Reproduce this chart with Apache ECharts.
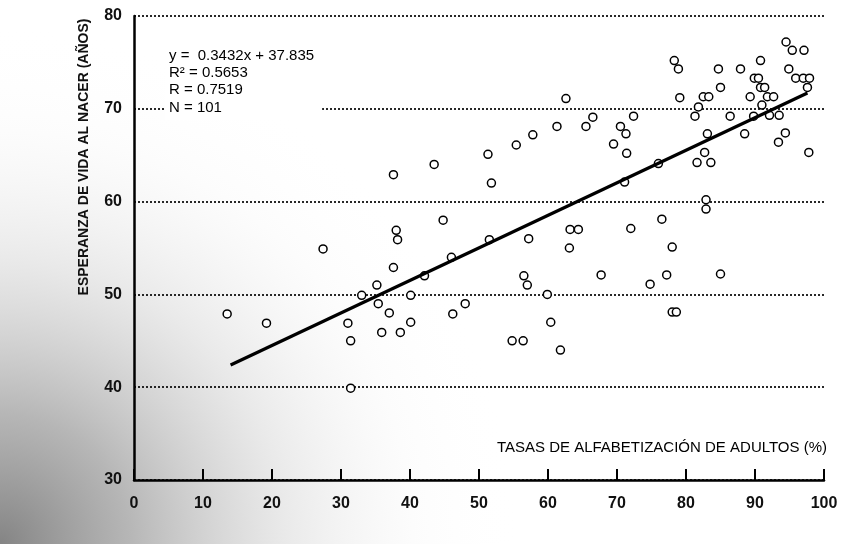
<!DOCTYPE html>
<html>
<head>
<meta charset="utf-8">
<script src="https://cdn.jsdelivr.net/npm/echarts@6/dist/echarts.min.js"></script>
<style>
html,body{margin:0;padding:0;background:#fff;}
#chart{width:846px;height:544px;}
</style>
</head>
<body>
<div id="chart"></div>
<script>
// Adult literacy rate (%) per country
const literacy = [
  13.5, 19.2, 27.4, 31.0, 31.4, 31.4, 33.0, 35.2, 35.4, 35.9,
  37.0, 37.6, 37.6, 38.0, 38.2, 38.6, 40.1, 40.1, 42.1, 43.5,
  44.8, 46.0, 46.2, 48.0, 51.3, 51.8, 51.5, 54.8, 55.4, 56.4,
  56.5, 57.0, 57.2, 57.8, 59.9, 60.4, 61.3, 61.8, 62.6, 63.1,
  63.2, 64.4, 65.5, 66.5, 67.7, 69.5, 70.5, 71.1, 71.3, 71.4,
  72.0, 72.4, 74.8, 76.0, 76.5, 77.2, 78.0, 78.0, 78.6, 78.3,
  78.9, 79.1, 81.3, 81.8, 82.5, 83.3, 83.1, 82.7, 81.6, 83.6,
  82.9, 82.9, 84.7, 85.0, 85.0, 86.4, 87.9, 88.5, 89.3, 89.8,
  89.9, 90.5, 90.8, 90.8, 91.4, 91.0, 91.8, 92.7, 92.1, 93.5,
  94.4, 93.4, 94.5, 95.4, 97.1, 94.9, 95.9, 97.0, 97.9, 97.6,
  97.8
];
// Life expectancy at birth (years) per country
const lifeExp = [
  47.9, 46.9, 54.9, 46.9, 45.0, 39.9, 49.9, 51.0, 49.0, 45.9,
  48.0, 52.9, 62.9, 56.9, 55.9, 45.9, 49.9, 47.0, 52.0, 64.0,
  58.0, 54.0, 47.9, 49.0, 65.1, 62.0, 55.9, 45.0, 66.1, 45.0,
  52.0, 51.0, 56.0, 67.2, 50.0, 47.0, 68.1, 44.0, 71.1, 55.0,
  57.0, 57.0, 68.1, 69.1, 52.1, 66.2, 68.1, 62.1, 67.3, 65.2,
  57.1, 69.2, 51.1, 64.1, 58.1, 52.1, 55.1, 48.1, 48.1, 75.2,
  74.3, 71.2, 69.2, 70.2, 71.3, 71.3, 67.3, 65.3, 64.2, 64.2,
  60.2, 59.2, 74.3, 72.3, 52.2, 69.2, 74.3, 67.3, 71.3, 69.2,
  73.3, 73.3, 75.2, 72.3, 72.3, 70.4, 71.3, 71.3, 69.3, 69.3,
  67.4, 66.4, 77.2, 76.3, 76.3, 74.3, 73.3, 73.3, 73.3, 72.3,
  65.3
];
// Fitted line end points
const fitX = [14.0, 97.6];
const fitY = [42.4, 71.7];
// Statistics box
const statsLines = ['y =  0.3432x + 37.835', 'R\u00B2 = 0.5653', 'R = 0.7519', 'N = 101'];
const xTicks = [0, 10, 20, 30, 40, 50, 60, 70, 80, 90, 100];
const yTicks = [30, 40, 50, 60, 70, 80];
const xTitle = 'TASAS DE ALFABETIZACIÓN DE ADULTOS (%)';
const yTitle = 'ESPERANZA DE VIDA AL NACER (AÑOS)';

const points = literacy.map((x, i) => [x, lifeExp[i]]);
const fitData = fitX.map((x, i) => [x, fitY[i]]);

const chart = echarts.init(document.getElementById('chart'), null, {renderer: 'canvas'});
const FONT = "'Liberation Sans', Arial, sans-serif";

chart.setOption({
  animation: false,
  backgroundColor: '#fff',
  grid: {left: 134, right: 22, top: 16, bottom: 64, containLabel: false},
  xAxis: {
    type: 'value',
    min: xTicks[0], max: xTicks[xTicks.length - 1], interval: 10,
    axisLine: {show: true, lineStyle: {color: '#000', width: 2.5}},
    axisTick: {show: true, inside: true, length: 11, lineStyle: {color: '#000', width: 2}},
    axisLabel: {margin: 16, color: '#111', fontSize: 16, fontWeight: 'bold', fontFamily: FONT},
    splitLine: {show: false}
  },
  yAxis: {
    type: 'value',
    min: yTicks[0], max: yTicks[yTicks.length - 1], interval: 10,
    axisLine: {show: true, lineStyle: {color: '#000', width: 2.5}},
    axisTick: {show: false},
    axisLabel: {margin: 12, color: '#111', fontSize: 16, fontWeight: 'bold', fontFamily: FONT},
    splitLine: {show: true, lineStyle: {color: '#111', width: 1.8, type: [2, 2]}}
  },
  graphic: [
    {
      type: 'rect', z: -100, silent: true,
      shape: {x: 0, y: 0, width: 846, height: 544},
      style: {
        fill: {
          type: 'radial', x: 0, y: 544, r: 520, global: true,
          colorStops: [
            {offset: 0, color: 'rgba(80,80,80,0.7)'},
            {offset: 0.25, color: 'rgba(110,110,110,0.5)'},
            {offset: 0.55, color: 'rgba(170,170,170,0.25)'},
            {offset: 0.8, color: 'rgba(220,220,220,0.08)'},
            {offset: 1, color: 'rgba(255,255,255,0)'}
          ]
        }
      }
    },
    {
      type: 'text', z: 50, left: 165, top: 43,
      style: {
        text: statsLines.join('\n'),
        font: "15px " + FONT,
        fill: '#000',
        lineHeight: 17.3,
        backgroundColor: '#fff',
        padding: [4, 8, 4, 4]
      }
    },
    {
      type: 'text', z: 50, x: 84, y: 157, rotation: Math.PI / 2,
      style: {
        text: yTitle,
        font: "bold 14px " + FONT,
        fill: '#111',
        textAlign: 'center',
        textVerticalAlign: 'middle'
      }
    },
    {
      type: 'text', z: 50, x: 827, y: 448,
      style: {
        text: xTitle,
        font: "15px " + FONT,
        fill: '#000',
        textAlign: 'right',
        textVerticalAlign: 'middle'
      }
    }
  ],
  series: [
    {
      type: 'scatter',
      data: points,
      symbol: 'circle',
      symbolSize: 8,
      itemStyle: {color: '#fff', borderColor: '#000', borderWidth: 1.5, opacity: 1},
      z: 3
    },
    {
      type: 'line',
      data: fitData,
      showSymbol: false,
      symbol: 'none',
      lineStyle: {color: '#000', width: 3.2},
      z: 4
    }
  ]
});
</script>
</body>
</html>
